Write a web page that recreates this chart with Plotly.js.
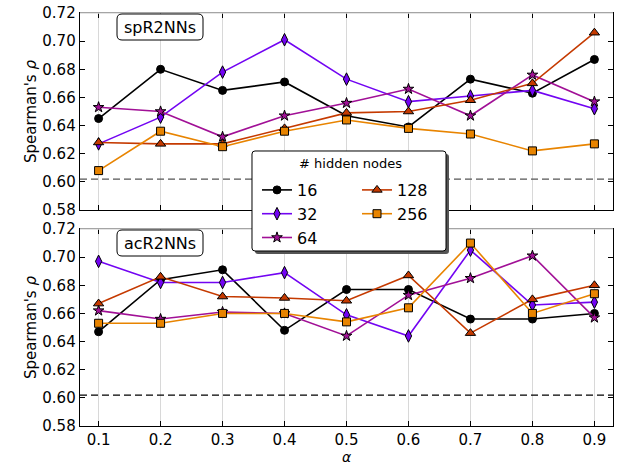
<!DOCTYPE html>
<html>
<head>
<meta charset="utf-8">
<script src="https://cdn.plot.ly/plotly-3.0.1.min.js"></script>
<style>html,body{margin:0;padding:0;background:#fff;}#chart{width:619px;height:466px;}</style>
</head>
<body>
<div id="chart"></div>
<script>
// ---- data ----
const alphas = [0.1, 0.2, 0.3, 0.4, 0.5, 0.6, 0.7, 0.8, 0.9];
const seriesNames = ['16', '32', '64', '128', '256'];
const panelNames = ['spR2NNs', 'acR2NNs'];
const baseline = 0.602;

// spR2NNs panel (top)
const sp16  = [0.645, 0.680, 0.665, 0.671, 0.647, 0.639, 0.673, 0.663, 0.687];
const sp32  = [0.627, 0.646, 0.678, 0.701, 0.673, 0.657, 0.661, 0.665, 0.652];
const sp64  = [0.653, 0.650, 0.632, 0.647, 0.656, 0.666, 0.647, 0.676, 0.657];
const sp128 = [0.628, 0.627, 0.627, 0.638, 0.649, 0.650, 0.658, 0.670, 0.706];
const sp256 = [0.608, 0.636, 0.625, 0.636, 0.644, 0.638, 0.634, 0.622, 0.627];

// acR2NNs panel (bottom)
const ac16  = [0.647, 0.684, 0.691, 0.648, 0.677, 0.677, 0.656, 0.656, 0.660];
const ac32  = [0.697, 0.682, 0.682, 0.689, 0.659, 0.644, 0.705, 0.666, 0.668];
const ac64  = [0.662, 0.656, 0.661, 0.660, 0.644, 0.673, 0.685, 0.701, 0.657];
const ac128 = [0.667, 0.686, 0.672, 0.671, 0.669, 0.687, 0.646, 0.670, 0.680];
const ac256 = [0.653, 0.653, 0.660, 0.660, 0.654, 0.664, 0.710, 0.660, 0.674];

const yTicks = [0.58, 0.60, 0.62, 0.64, 0.66, 0.68, 0.70, 0.72];

// ---- styles ----
const colors  = ['#000000', '#7204f2', '#a11096', '#c53a00', '#e88400'];
const symbols = ['circle', 'diamond-tall', 'star', 'triangle-up', 'square'];
const msizes  = [8, 9, 8, 9, 8];
const legendFor = ['legend', 'legend', 'legend', 'legend2', 'legend2'];

const topData = [sp16, sp32, sp64, sp128, sp256];
const botData = [ac16, ac32, ac64, ac128, ac256];

const traces = [];
function addPanel(dataSets, xa, ya, show) {
  dataSets.forEach((ys, i) => {
    traces.push({
      x: alphas, y: ys, xaxis: xa, yaxis: ya,
      type: 'scatter', mode: 'lines+markers',
      name: seriesNames[i], showlegend: show, legend: legendFor[i],
      line: {color: colors[i], width: 1.6},
      marker: {symbol: symbols[i], size: msizes[i], color: colors[i],
               line: {color: '#000', width: 1}},
      cliponaxis: false
    });
  });
  traces.push({
    x: [0.07, 0.93], y: [baseline, baseline], xaxis: xa, yaxis: ya,
    type: 'scatter', mode: 'lines', showlegend: false, hoverinfo: 'skip',
    line: {color: ya === 'y' ? '#555' : '#000', width: 1.3, dash: '7px,4px'}
  });
}
addPanel(topData, 'x', 'y', true);
addPanel(botData, 'x2', 'y2', false);

// ---- layout helpers ----
const W = 619, H = 466;
const M = {l: 80, r: 6, t: 13, b: 40};
const PW = W - M.l - M.r, PH = H - M.t - M.b;
const px2x = p => (p - M.l) / PW;
const px2y = p => (H - M.b - p) / PH;

function roundRect(x0, y0, x1, y1, r) {
  const X = p => px2x(p).toFixed(5), Y = p => px2y(p).toFixed(5);
  return 'M' + X(x0 + r) + ',' + Y(y0) +
    ' L' + X(x1 - r) + ',' + Y(y0) + ' Q' + X(x1) + ',' + Y(y0) + ' ' + X(x1) + ',' + Y(y0 + r) +
    ' L' + X(x1) + ',' + Y(y1 - r) + ' Q' + X(x1) + ',' + Y(y1) + ' ' + X(x1 - r) + ',' + Y(y1) +
    ' L' + X(x0 + r) + ',' + Y(y1) + ' Q' + X(x0) + ',' + Y(y1) + ' ' + X(x0) + ',' + Y(y1 - r) +
    ' L' + X(x0) + ',' + Y(y0 + r) + ' Q' + X(x0) + ',' + Y(y0) + ' ' + X(x0 + r) + ',' + Y(y0) + ' Z';
}

const font = {family: 'DejaVu Sans, sans-serif', size: 15, color: '#000'};
const topDomain = [px2y(210), 1];
const botDomain = [0, px2y(229)];

const xBase = {
  range: [0.07, 0.93], tickmode: 'array', tickvals: alphas, ticktext: alphas.map(a => a.toFixed(1)),
  ticks: 'inside', ticklen: 5, tickcolor: '#000', tickwidth: 1,
  showline: true, linecolor: '#000', linewidth: 1.3, mirror: 'ticks',
  showgrid: true, gridcolor: '#d8d8d8', gridwidth: 1, zeroline: false,
  tickfont: font
};
const yBase = {
  range: [0.58, 0.72], tickmode: 'array', tickvals: yTicks, ticktext: yTicks.map(v => v.toFixed(2)),
  ticks: 'inside', ticklen: 5, tickcolor: '#000', tickwidth: 1,
  showline: true, linecolor: '#000', linewidth: 1.3, mirror: 'ticks',
  showgrid: false, zeroline: false, tickfont: font,
  title: {text: "Spearman's <i>ρ</i>", font: font}
};

const layout = {
  width: W, height: H,
  margin: M,
  paper_bgcolor: '#fff', plot_bgcolor: '#fff',
  font: font,
  xaxis: Object.assign({}, xBase, {anchor: 'y', showticklabels: false, matches: 'x2'}),
  yaxis: Object.assign({}, yBase, {domain: topDomain, anchor: 'x'}),
  xaxis2: Object.assign({}, xBase, {anchor: 'y2'}),
  yaxis2: Object.assign({}, yBase, {domain: botDomain, anchor: 'x2'}),
  legend: {
    x: px2x(257), y: px2y(173), xanchor: 'left', yanchor: 'top',
    bgcolor: 'rgba(0,0,0,0)', borderwidth: 0, orientation: 'v',
    font: {family: 'DejaVu Sans, sans-serif', size: 16, color: '#000'},
    tracegroupgap: 0
  },
  legend2: {
    x: px2x(357), y: px2y(173), xanchor: 'left', yanchor: 'top',
    bgcolor: 'rgba(0,0,0,0)', borderwidth: 0, orientation: 'v',
    font: {family: 'DejaVu Sans, sans-serif', size: 16, color: '#000'},
    tracegroupgap: 0
  },
  shapes: [
    // light top spines
    {type: 'line', xref: 'paper', yref: 'paper', x0: 0, x1: 1, y0: 1, y1: 1,
     line: {color: '#dcdcdc', width: 1.5}, layer: 'above'},
    {type: 'line', xref: 'paper', yref: 'paper', x0: 0, x1: 1, y0: botDomain[1], y1: botDomain[1],
     line: {color: '#dcdcdc', width: 1.5}, layer: 'above'},
    // legend shadow & box
    {type: 'path', xref: 'paper', yref: 'paper', path: roundRect(255, 154, 449, 254, 3),
     fillcolor: '#555', line: {width: 0}, layer: 'above'},
    {type: 'path', xref: 'paper', yref: 'paper', path: roundRect(252, 151, 446, 251, 3),
     fillcolor: '#fff', line: {color: '#000', width: 1}, layer: 'above'},
    // panel label boxes
    {type: 'path', xref: 'paper', yref: 'paper', path: roundRect(117, 14, 203, 40, 5),
     fillcolor: '#fff', line: {color: '#000', width: 1}, layer: 'above'},
    {type: 'path', xref: 'paper', yref: 'paper', path: roundRect(117, 230, 203, 256, 5),
     fillcolor: '#fff', line: {color: '#000', width: 1}, layer: 'above'}
  ],
  annotations: [
    {xref: 'paper', yref: 'paper', x: px2x(160), y: px2y(27), text: panelNames[0], showarrow: false,
     font: {family: 'DejaVu Sans, sans-serif', size: 16, color: '#000'}, xanchor: 'center', yanchor: 'middle'},
    {xref: 'paper', yref: 'paper', x: px2x(160), y: px2y(243), text: panelNames[1], showarrow: false,
     font: {family: 'DejaVu Sans, sans-serif', size: 16, color: '#000'}, xanchor: 'center', yanchor: 'middle'},
    {xref: 'paper', yref: 'paper', x: px2x(350), y: px2y(163), text: '# hidden nodes', showarrow: false,
     font: {family: 'DejaVu Sans, sans-serif', size: 13, color: '#000'}, xanchor: 'center', yanchor: 'middle'},
    {xref: 'paper', yref: 'paper', x: 0.5, y: px2y(457), text: '<i>α</i>', showarrow: false,
     font: {family: 'DejaVu Sans, sans-serif', size: 14, color: '#000'}, xanchor: 'center', yanchor: 'middle'}
  ]
};

Plotly.newPlot('chart', traces, layout, {staticPlot: true, displayModeBar: false});
</script>
</body>
</html>
